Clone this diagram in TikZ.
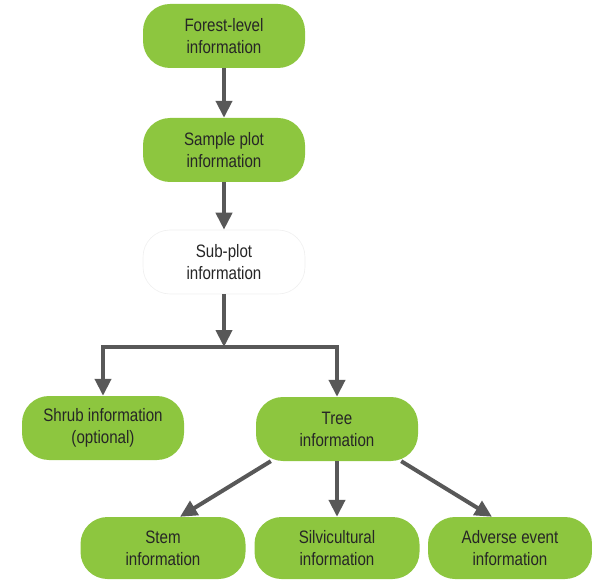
\documentclass[tikz,border=0pt]{standalone}
\usepackage{fontspec}
\setmainfont{Liberation Sans}[FakeStretch=0.84]
\usetikzlibrary{arrows.meta}
\definecolor{leaf}{HTML}{8DC63F}
\definecolor{wire}{HTML}{585858}
\definecolor{ink}{HTML}{262626}
\begin{document}
\begin{tikzpicture}[x=1pt,y=-1pt,
  box/.style={fill=leaf, rounded corners=27pt, minimum width=162pt,
    minimum height=64pt, align=center, text=ink, inner sep=0pt,
    font=\fontsize{18}{22}\selectfont},
  plainbox/.style={box, fill=white, draw=black!6, line width=0.6pt},
  link/.style={draw=wire, line width=4pt, line join=miter,
    -{Triangle[length=17pt,width=16pt]}}]
\useasboundingbox (0,0) rectangle (592,580);

% information levels
\node[box] (forest) at (224,36) {Forest-level\\information};
\node[box] (plot) at (224,150) {Sample plot\\information};
\node[plainbox] (sub) at (224,262) {Sub-plot\\information};
\node[box] (shrub) at (103,428) {Shrub information\\(optional)};
\node[box] (tree) at (337,429) {Tree\\information};
\node[box, minimum width=165pt, minimum height=62pt] (stem) at (163,548) {Stem\\information};
\node[box, minimum width=165pt, minimum height=62pt] (silvi) at (337,548) {Silvicultural\\information};
\node[box, minimum width=164pt, minimum height=62pt] (adverse) at (510,548) {Adverse event\\information};

% junction on the branching bar
\coordinate (j) at (224,347);

% connectors
\draw[link] (forest) -- (plot);
\draw[link] (plot) -- (sub);
\draw[link] (sub) -- (j);
\draw[link] (tree.north |- j) -| (shrub.north);
\draw[link] (shrub.north |- j) -| (tree.north);
\draw[link] ([xshift=15pt]tree.south west) -- ([xshift=17pt]stem.north);
\draw[link] (tree.south) -- (silvi.north);
\draw[link] ([xshift=-17pt]tree.south east) -- ([xshift=-18pt]adverse.north);
\end{tikzpicture}
\end{document}
